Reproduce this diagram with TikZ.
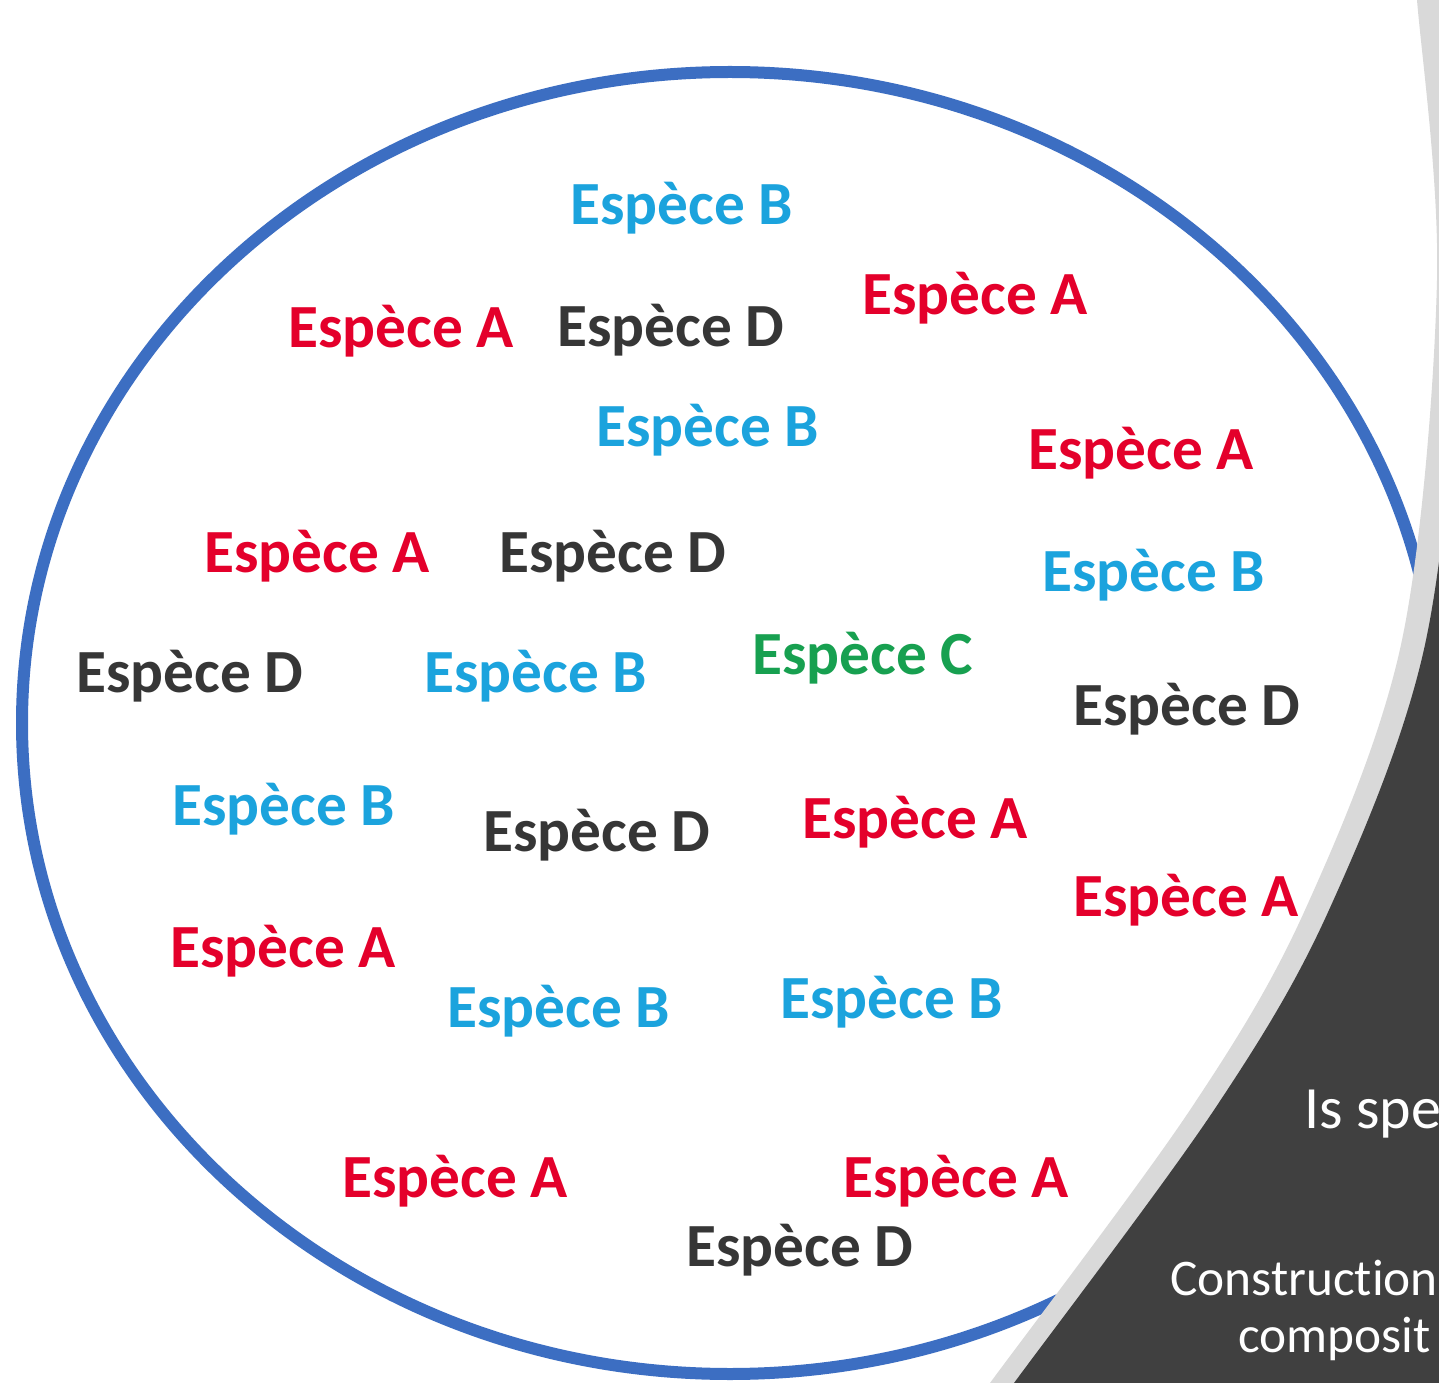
\documentclass[tikz,border=0pt]{standalone}
\usepackage{fontspec}
\setmainfont{Carlito}[Ligatures={NoCommon}]
\definecolor{spA}{HTML}{E4002B}
\definecolor{spB}{HTML}{1BA3DD}
\definecolor{spC}{HTML}{17A050}
\definecolor{spD}{HTML}{363636}
\definecolor{ringblue}{HTML}{3C6EC2}
\definecolor{darkbg}{HTML}{404040}
\definecolor{bandgray}{HTML}{D9D9D9}
\begin{document}
\begin{tikzpicture}[x=0.75pt,y=-0.75pt,
  lab/.style={font=\bfseries\fontsize{46}{55}\selectfont, inner sep=0pt, anchor=base west},
  sideA/.style={font=\fontsize{45}{54}\selectfont, text=white, inner sep=0pt, anchor=base west},
  sideB/.style={font=\fontsize{38.5}{46}\selectfont, text=white, inner sep=0pt, anchor=base west}]
\useasboundingbox (0,0) rectangle (1439,1383);
\clip (0,0) rectangle (1439,1383);
\fill[white] (0,0) rectangle (1439,1383);
% ring
\draw[ringblue, line width=9pt] (730,723) ellipse [x radius=708, y radius=651];
% labels
\node[lab, text=spB] (l1) at (570,225) {Espèce B};
\node[lab, text=spA] (l2) at (288,348) {Espèce A};
\node[lab, text=spD] (l3) at (557,347) {Espèce D};
\node[lab, text=spA] (l4) at (862,315) {Espèce A};
\node[lab, text=spB] (l5) at (596,447) {Espèce B};
\node[lab, text=spA] (l6) at (1028,470) {Espèce A};
\node[lab, text=spA] (l7) at (204,573) {Espèce A};
\node[lab, text=spD] (l8) at (499,573) {Espèce D};
\node[lab, text=spB] (l9) at (1042,591) {Espèce B};
\node[lab, text=spD] (l10) at (76,692) {Espèce D};
\node[lab, text=spB] (l11) at (424,692) {Espèce B};
\node[lab, text=spC] (l12) at (752,674) {Espèce C};
\node[lab, text=spD] (l13) at (1073,725) {Espèce D};
\node[lab, text=spB] (l14) at (172,825) {Espèce B};
\node[lab, text=spD] (l15) at (483,851) {Espèce D};
\node[lab, text=spA] (l16) at (802,838) {Espèce A};
\node[lab, text=spA] (l17) at (1073,916) {Espèce A};
\node[lab, text=spA] (l18) at (170,967) {Espèce A};
\node[lab, text=spB] (l19) at (447,1027) {Espèce B};
\node[lab, text=spB] (l20) at (780,1018) {Espèce B};
\node[lab, text=spA] (l21) at (342,1197) {Espèce A};
\node[lab, text=spA] (l22) at (843,1197) {Espèce A};
\node[lab, text=spD] (l23) at (686,1266) {Espèce D};
% dark side panel with light band
\def\edgecurve{plot[smooth, tension=0.55] coordinates {(1410,-60) (1417,0) (1437,280) (1402,640) (1305,910) (1190,1110) (990,1383) (962,1420)}}
\fill[bandgray] \edgecurve -- (1500,1420) -- (1500,-60) -- cycle;
\begin{scope}[xshift=18pt]
  \fill[darkbg] \edgecurve -- (1500,1420) -- (1500,-60) -- cycle;
\end{scope}
\node[sideA] (s1) at (1304,1128) {Is spe};
\node[sideB] (s2) at (1170,1295) {Construction};
\node[sideB] (s3) at (1238,1352) {composit};
\end{tikzpicture}
\end{document}
